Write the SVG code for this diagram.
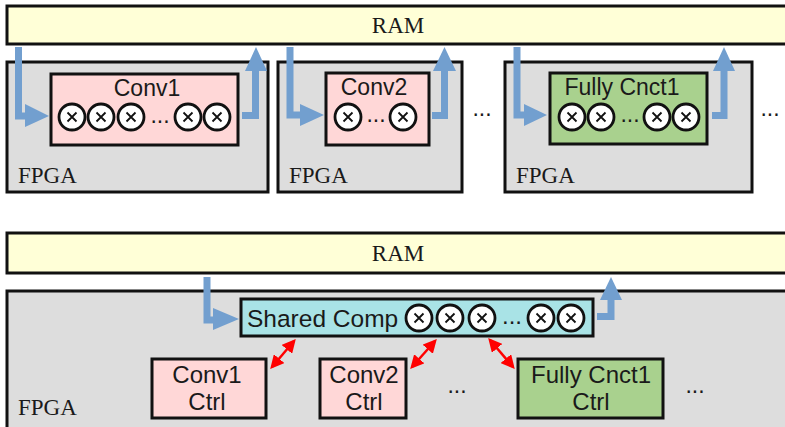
<svg xmlns="http://www.w3.org/2000/svg" width="785" height="427" viewBox="0 0 785 427">
  <style>
    .ram { fill: #ffffd7; stroke: #111; stroke-width: 3; }
    .fpga { fill: #dddddd; stroke: #111; stroke-width: 3; }
    .pink { fill: #ffd7d7; stroke: #111; stroke-width: 3; }
    .green { fill: #a9d18e; stroke: #111; stroke-width: 3; }
    .cyan { fill: #a9e3e6; stroke: #111; stroke-width: 3; }
    .serif { font-family: "Liberation Serif", "Times New Roman", serif; font-size: 23px; fill: #1a1a1a; }
    .sans { font-family: "Liberation Sans", Arial, sans-serif; font-size: 23px; fill: #1a1a1a; }
    .big { font-size: 24px; }
    .mid { text-anchor: middle; }
    .flow { fill: none; stroke: #729fcf; stroke-width: 7; }
    .head { fill: #729fcf; }
    .link { stroke: #ff0000; stroke-width: 2.5; fill: none; marker-start: url(#redHead); marker-end: url(#redHead); }
  </style>
  <defs>
    <marker id="redHead" viewBox="0 0 10 10" refX="8" refY="5" markerWidth="5.5" markerHeight="5.5" orient="auto-start-reverse">
      <path d="M0,0 L10,5 L0,10 z" fill="#ff0000"/>
    </marker>
    <!-- multiplier unit: circle with a cross -->
    <symbol id="mul" viewBox="-15 -15 30 30" width="30" height="30" overflow="visible">
      <circle r="13" fill="#ffffff" stroke="#111" stroke-width="2.8"/>
      <path d="M-4.5,-4.5 L4.5,4.5 M-4.5,4.5 L4.5,-4.5" stroke="#111" stroke-width="1.8"/>
    </symbol>
  </defs>

  <!-- ===== Top: one layer per FPGA ===== -->
  <g id="ram-top">
    <rect class="ram" x="7" y="6" width="790" height="38"/>
    <text class="serif mid" x="398" y="33">RAM</text>
  </g>

  <g id="fpga1">
    <rect class="fpga" x="7" y="62" width="261" height="130"/>
    <text class="serif" x="18" y="183">FPGA</text>
  </g>
  <g id="conv1">
    <rect class="pink" x="51" y="74" width="187" height="71"/>
    <text class="sans mid" x="147" y="96">Conv1</text>
    <use href="#mul" x="57" y="102"/>
    <use href="#mul" x="86" y="102"/>
    <use href="#mul" x="116" y="102"/>
    <text class="sans mid" x="160" y="123">...</text>
    <use href="#mul" x="173" y="102"/>
    <use href="#mul" x="202" y="102"/>
  </g>

  <g id="fpga2">
    <rect class="fpga" x="278" y="62" width="184" height="130"/>
    <text class="serif" x="289" y="183">FPGA</text>
  </g>
  <g id="conv2">
    <rect class="pink" x="326" y="73" width="103" height="72"/>
    <text class="sans mid" x="374" y="95">Conv2</text>
    <use href="#mul" x="333" y="102"/>
    <text class="sans mid" x="376" y="122">...</text>
    <use href="#mul" x="388" y="102"/>
  </g>
  <text class="sans mid" x="482" y="116">...</text>

  <g id="fpga3">
    <rect class="fpga" x="505" y="62" width="247" height="130"/>
    <text class="serif" x="516" y="183">FPGA</text>
  </g>
  <g id="fc1">
    <rect class="green" x="550" y="73" width="157" height="71"/>
    <text class="sans mid" x="622" y="95">Fully Cnct1</text>
    <use href="#mul" x="557" y="102"/>
    <use href="#mul" x="586" y="102"/>
    <text class="sans mid" x="630" y="122">...</text>
    <use href="#mul" x="642" y="102"/>
    <use href="#mul" x="671" y="102"/>
  </g>
  <text class="sans mid" x="770" y="116">...</text>

  <!-- ===== Bottom: shared compute on one FPGA ===== -->
  <g id="ram-bottom">
    <rect class="ram" x="7" y="233" width="790" height="40"/>
    <text class="serif mid" x="398" y="261">RAM</text>
  </g>

  <g id="fpga-shared">
    <rect class="fpga" x="7" y="291" width="790" height="150"/>
    <text class="serif" x="18" y="415">FPGA</text>
  </g>

  <g id="shared-comp">
    <rect class="cyan" x="241" y="299" width="352" height="37"/>
    <text class="sans" x="247" y="327" style="font-size:24.5px">Shared Comp</text>
    <use href="#mul" x="404" y="303"/>
    <use href="#mul" x="435" y="303"/>
    <use href="#mul" x="467" y="303"/>
    <text class="sans big mid" x="512" y="324">...</text>
    <use href="#mul" x="526" y="303"/>
    <use href="#mul" x="556" y="303"/>
  </g>

  <g id="conv1-ctrl">
    <rect class="pink" x="152" y="359" width="114" height="59"/>
    <text class="sans big mid" x="207" y="383">Conv1</text>
    <text class="sans big mid" x="207" y="410">Ctrl</text>
  </g>
  <g id="conv2-ctrl">
    <rect class="pink" x="320" y="359" width="86" height="59"/>
    <text class="sans big mid" x="364" y="383">Conv2</text>
    <text class="sans big mid" x="364" y="410">Ctrl</text>
  </g>
  <text class="sans mid" x="457" y="393">...</text>
  <g id="fc1-ctrl">
    <rect class="green" x="518" y="359" width="145" height="59"/>
    <text class="sans big mid" x="591" y="383">Fully Cnct1</text>
    <text class="sans big mid" x="591" y="410">Ctrl</text>
  </g>
  <text class="sans mid" x="695" y="393">...</text>

  <!-- ===== Connectors ===== -->
  <g id="connectors">
    <!-- data in / out, top -->
    <path class="flow" d="M18.5,47 V116 H27"/>
    <polygon class="head" points="25,104 49,116 25,127"/>
    <path class="flow" d="M242,115.5 H255.5 V69"/>
    <polygon class="head" points="245,71 256,47 267,71"/>

    <path class="flow" d="M290,47 V115 H302"/>
    <polygon class="head" points="300,104 324,115 300,126"/>
    <path class="flow" d="M432,115.5 H444.5 V69"/>
    <polygon class="head" points="433,71 444.5,47 456,71"/>

    <path class="flow" d="M517,47 V115 H526"/>
    <polygon class="head" points="524,104 547,115 524,126"/>
    <path class="flow" d="M712,115.5 H724 V69"/>
    <polygon class="head" points="713,71 724,47 735,71"/>

    <!-- data in / out, bottom -->
    <path class="flow" d="M207,277 V320 H215"/>
    <polygon class="head" points="213,308 239,319 213,330"/>
    <path class="flow" d="M597,316.5 H611 V298"/>
    <polygon class="head" points="600,300 611,277 622,300"/>

    <!-- control links -->
    <path class="link" d="M272,367 L294,341"/>
    <path class="link" d="M412,367 L435,341"/>
    <path class="link" d="M490,340 L513,367"/>
  </g>
</svg>
